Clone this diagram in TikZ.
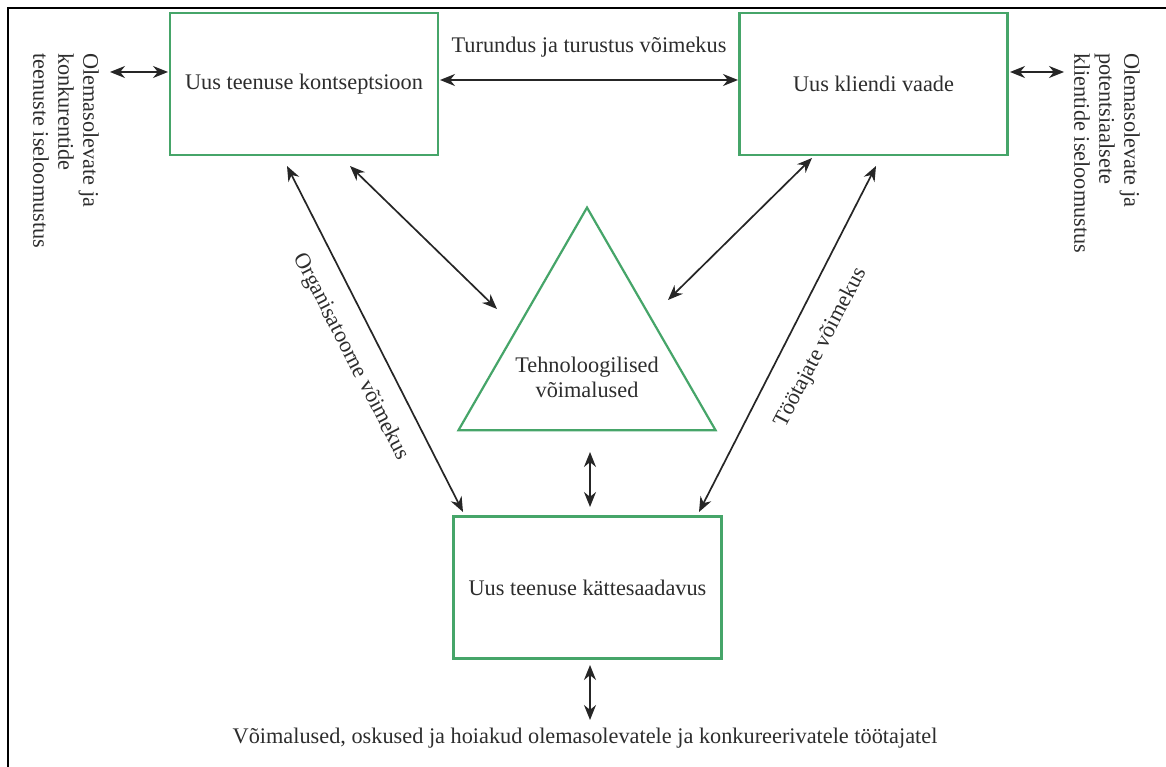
\documentclass[tikz,border=0pt]{standalone}
\usepackage{fontspec}
\setmainfont{Liberation Serif}
\usetikzlibrary{arrows.meta,shapes.geometric}
\definecolor{boxgreen}{RGB}{70,165,105}
\definecolor{txt}{RGB}{45,45,45}
\tikzset{
  box/.style={draw=boxgreen, line width=2.2pt, minimum width=268pt, minimum height=142pt, inner sep=0pt, text=txt, font=\fontsize{22.3}{25}\selectfont},
  lbl/.style={text=txt, font=\fontsize{22.3}{25}\selectfont, inner sep=0pt},
  dbl/.style={{Stealth[length=15pt,width=12pt]}-{Stealth[length=15pt,width=12pt]}, line width=1.7pt, draw=black!85},
}
\begin{document}
\begin{tikzpicture}[x=1pt,y=-1pt]
\useasboundingbox (0,0) rectangle (1166,767);
\fill[white] (0,0) rectangle (1166,767);
% frame
\draw[line width=2.5pt] (8,767) -- (8,8) -- (1166,8);
% boxes
\node[box] (konts) at (304,84) {Uus teenuse kontseptsioon};
\node[box] (klient) at (873.5,84) {Uus kliendi vaade};
\node[box] (katte) at (587.5,587.5) {Uus teenuse kättesaadavus};
\node[regular polygon, regular polygon sides=3, minimum size=296.8pt, draw=boxgreen, line width=2.2pt, inner sep=0pt] (tri) at (587,356) {};
\node[lbl, align=center] (tritext) at (587,377) {Tehnoloogilised\\võimalused};
% side texts
\node[lbl, rotate=-90, anchor=north west, align=left] (lefttext) at (99,53) {Olemasolevate ja\\konkurentide\\teenuste iseloomustus};
\node[lbl, rotate=-90, anchor=north west, align=left] (righttext) at (1140,53) {Olemasolevate ja\\potentsiaalsete\\klientide iseloomustus};
\node[lbl] (turundus) at (589,47) {Turundus ja turustus võimekus};
\node[lbl, rotate=-62.8] (org) at (351,357) {Organisatoorne võimekus};
\node[lbl, rotate=62.6] (tootajad) at (821,348) {Töötajate võimekus};
\node[lbl] (bottom) at (585,738) {Võimalused, oskused ja hoiakud olemasolevatele ja konkureerivatele töötajatel};
% arrow end coordinates
\coordinate (l1) at (110,72); \coordinate (l2) at (168,72);
\coordinate (r1) at (1010,72); \coordinate (r2) at (1064,72);
\coordinate (t1) at (440,80); \coordinate (t2) at (738,80);
\coordinate (o1) at (287,166); \coordinate (o2) at (463,512);
\coordinate (a1) at (350,166); \coordinate (a2) at (497,309);
\coordinate (b1) at (812,158); \coordinate (b2) at (668,300);
\coordinate (w1) at (876,166); \coordinate (w2) at (699,512);
\coordinate (v1) at (590,452); \coordinate (v2) at (590,507);
\coordinate (u1) at (590,665); \coordinate (u2) at (590,720);
\draw[dbl] (l1) -- (l2);
\draw[dbl] (r1) -- (r2);
\draw[dbl] (t1) -- (t2);
\draw[dbl] (o1) -- (o2);
\draw[dbl] (a1) -- (a2);
\draw[dbl] (b1) -- (b2);
\draw[dbl] (w1) -- (w2);
\draw[dbl] (v1) -- (v2);
\draw[dbl] (u1) -- (u2);
\end{tikzpicture}
\end{document}
